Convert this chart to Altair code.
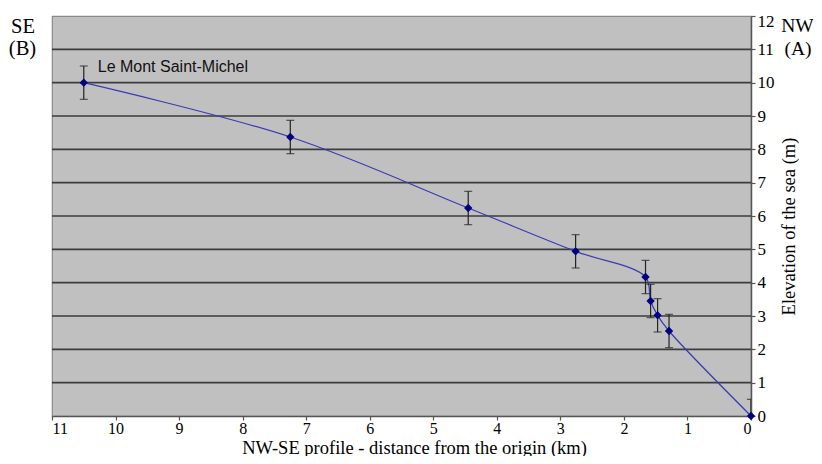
import altair as alt
import pandas as pd

# Data
distance = [10.5, 7.25, 4.45, 2.76, 1.66, 1.58, 1.47, 1.29, 0.0]
elevation = [10.0, 8.37, 6.24, 4.94, 4.17, 3.45, 3.02, 2.55, 0.0]
err_low = [9.5, 7.87, 5.74, 4.44, 3.67, 2.95, 2.52, 2.05, -0.5]
err_high = [10.5, 8.87, 6.74, 5.44, 4.67, 3.95, 3.52, 3.05, 0.5]
grid_levels = [1, 2, 3, 4, 5, 6, 7, 8, 9, 10, 11]
x_ticks = [0, 1, 2, 3, 4, 5, 6, 7, 8, 9, 10, 11]
y_ticks = [0, 1, 2, 3, 4, 5, 6, 7, 8, 9, 10, 11, 12]

df = pd.DataFrame({"d": distance, "e": elevation, "lo": err_low, "hi": err_high})
grid_df = pd.DataFrame({"e": grid_levels})
label_df = pd.DataFrame({"d": [10.28], "e": [10.47], "t": ["Le Mont Saint-Michel"]})

SERIF = "Liberation Serif"

xscale = alt.Scale(domain=[0, 11], reverse=True, nice=False, zero=False)
yscale = alt.Scale(domain=[0, 12], nice=False)

xaxis = alt.Axis(
    values=x_ticks, format="d", title="NW-SE profile - distance from the origin (km)",
    grid=False, domainColor="#555555", domainWidth=1.5, tickColor="#555555",
    tickSize=4, tickWidth=1.2, labelFont=SERIF, labelFontSize=16, labelColor="black",
    labelPadding=0, titleFont=SERIF, titleFontSize=18.5, titleFontWeight="normal",
    titleColor="black", titleX=362, titleY=37, titleBaseline="alphabetic",
    titleAlign="center", titleAnchor="middle",
)
yaxis = alt.Axis(
    orient="right", values=y_ticks, format="d", title="Elevation of the sea (m)",
    grid=False, domainColor="#555555", domainWidth=1.5, tickColor="#555555",
    tickSize=4, tickWidth=1.2, labelFont=SERIF, labelFontSize=17, labelColor="black",
    labelPadding=2, labelOffset=alt.expr("datum.value == 12 ? 5 : 0"),
    titleFont=SERIF, titleFontSize=18.5, titleFontWeight="normal",
    titleColor="black", titleAngle=270, titleX=37, titleY=210,
    titleBaseline="middle", titleAlign="center", titleAnchor="middle",
)

X = lambda f: alt.X(f, scale=xscale, axis=xaxis)
Y = lambda f: alt.Y(f, scale=yscale, axis=yaxis)

grid = alt.Chart(grid_df).mark_rule(color="#3c3c3c", strokeWidth=1.6).encode(y=Y("e:Q"))

line = alt.Chart(df).mark_line(
    color="#3a3ab4", strokeWidth=1.2, interpolate="catmull-rom"
).encode(x=X("d:Q"), y=Y("e:Q"))

bars = alt.Chart(df).mark_rule(color="#222222", strokeWidth=1.2, clip=True).encode(
    x=X("d:Q"), y=Y("lo:Q"), y2="hi:Q"
)
caps_lo = alt.Chart(df).mark_tick(
    color="#222222", thickness=1.2, size=8, orient="horizontal", clip=True
).encode(x=X("d:Q"), y=Y("lo:Q"))
caps_hi = alt.Chart(df).mark_tick(
    color="#222222", thickness=1.2, size=8, orient="horizontal", clip=True
).encode(x=X("d:Q"), y=Y("hi:Q"))

points = alt.Chart(df).mark_point(
    shape="diamond", filled=True, color="#000080", size=70, opacity=1
).encode(x=X("d:Q"), y=Y("e:Q"))

label = alt.Chart(label_df).mark_text(
    font="Liberation Sans", fontSize=16, align="left", baseline="middle", color="#111111"
).encode(x=X("d:Q"), y=Y("e:Q"), text="t:N")

corner_df = pd.DataFrame({
    "t": ["SE", "(B)", "NW", "(A)"],
    "px": [-29, -29.5, 745.5, 746],
    "py": [17, 39, 16, 39],
    "fs": [20.5, 20.5, 19.5, 19.5],
})
corners = alt.Chart(corner_df).mark_text(
    font=SERIF, align="center", baseline="alphabetic", color="black"
).encode(
    x=alt.X("px:Q", scale=None), y=alt.Y("py:Q", scale=None), text="t:N",
    size=alt.Size("fs:Q", scale=None, legend=None),
)

chart = alt.layer(grid, line, bars, caps_lo, caps_hi, points, label, corners).properties(
    width=699, height=400,
    autosize=alt.AutoSizeParams(type="none"),
    padding={"left": 44, "top": 8, "right": 62, "bottom": 40},
    background="white",
).configure_view(
    fill="#c0c0c0", stroke="#8a8a8a", strokeWidth=1.2
)

chart.save("out.html", embed_options={"renderer": "svg", "actions": False})
